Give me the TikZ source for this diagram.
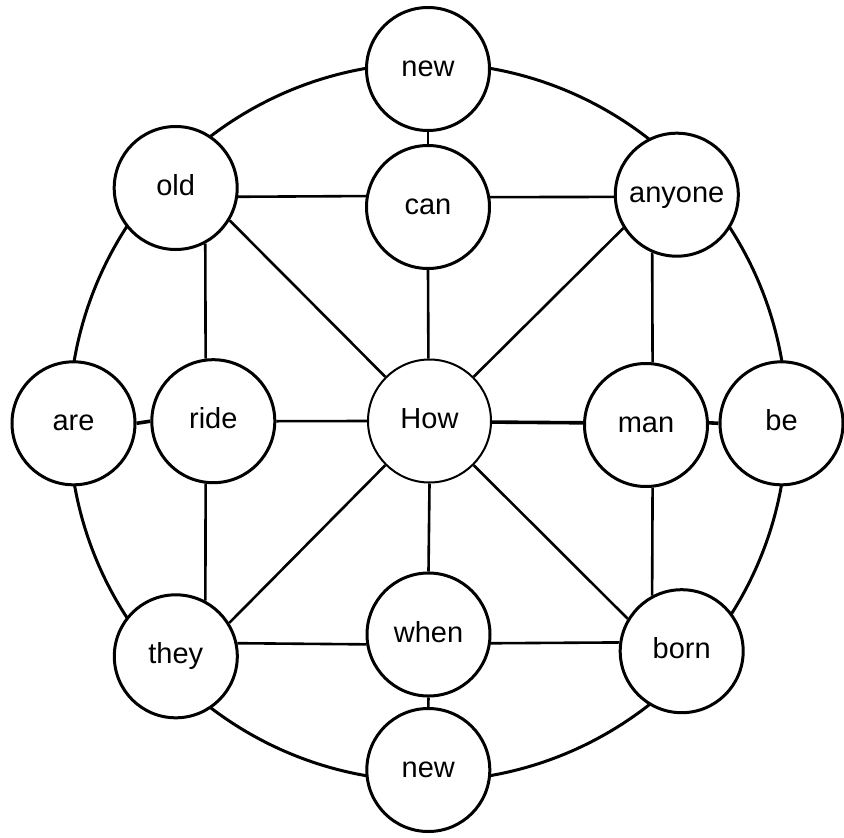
\documentclass[tikz,border=0pt]{standalone}
\usepackage{fontspec}
\setmainfont{Liberation Sans}
\usetikzlibrary{backgrounds}
\begin{document}
\begin{tikzpicture}[x=1pt,y=-1pt,
  word/.style={circle,draw,fill=white,line width=3pt,minimum size=123pt,inner sep=0pt,
    font=\fontsize{29}{29}\selectfont,text height=15pt,text depth=0pt},
  thinword/.style={word,line width=2pt},
  link/.style={line width=2.6pt},
  thicklink/.style={line width=3.6pt},
  ring/.style={line width=3pt}]
\useasboundingbox (0,0) rectangle (844,838);
\coordinate (c) at (428,422);
% nodes
\node[word] (newT) at (428,69) {new};
\node[word] (old) at (175.7,188) {old};
\node[word] (can) at (428,207) {can};
\node[word] (anyone) at (676.8,194.7) {anyone};
\node[word] (are) at (73.5,423.3) {are};
\node[word] (ride) at (213.3,421.2) {ride};
\node[thinword] (How) at (429.5,421) {How};
\node[word] (man) at (646,425) {man};
\node[word] (be) at (781.5,423.3) {be};
\node[word] (they) at (175.8,656.3) {they};
\node[word] (when) at (428.5,634.5) {when};
\node[word] (born) at (681.7,651.2) {born};
\node[word] (newB) at (428.3,770) {new};
\begin{pgfonlayer}{background}
\draw[ring] (c) circle[radius=359pt];
\draw[link] (newT.south) -- (can.north);
\draw[link] (old.-8) -- (can.170.5);
\draw[link] (can.9.5) -- (anyone.-178.2);
\draw[link] (old.-62) -- (ride.97.6);
\draw[link] (ride.-97.6) -- (they.62);
\draw[link] (anyone.-113.7) -- (man.84.8);
\draw[link] (man.-84.8) -- (born.118.7);
\draw[thicklink] (are.0) -- (ride.180);
\draw[link] (ride.0) -- (How.180);
\draw[thicklink] (How.-1.5) -- (man.178);
\draw[thicklink] (man.2) -- (be.180);
\draw[link] (they.12) -- (when.-171.9);
\draw[link] (when.-8.1) -- (born.172.7);
\draw[link] (when.south) -- (newB.north);
\draw[link] (can.south) -- (How.91);
\draw[link] (How.-90.5) -- (when.north);
\draw[link] (old.-31) -- (How.135);
\draw[link] (anyone.-148.4) -- (How.45);
\draw[link] (they.32.6) -- (How.-135);
\draw[link] (born.149.1) -- (How.-45);
\end{pgfonlayer}
\end{tikzpicture}
\end{document}
